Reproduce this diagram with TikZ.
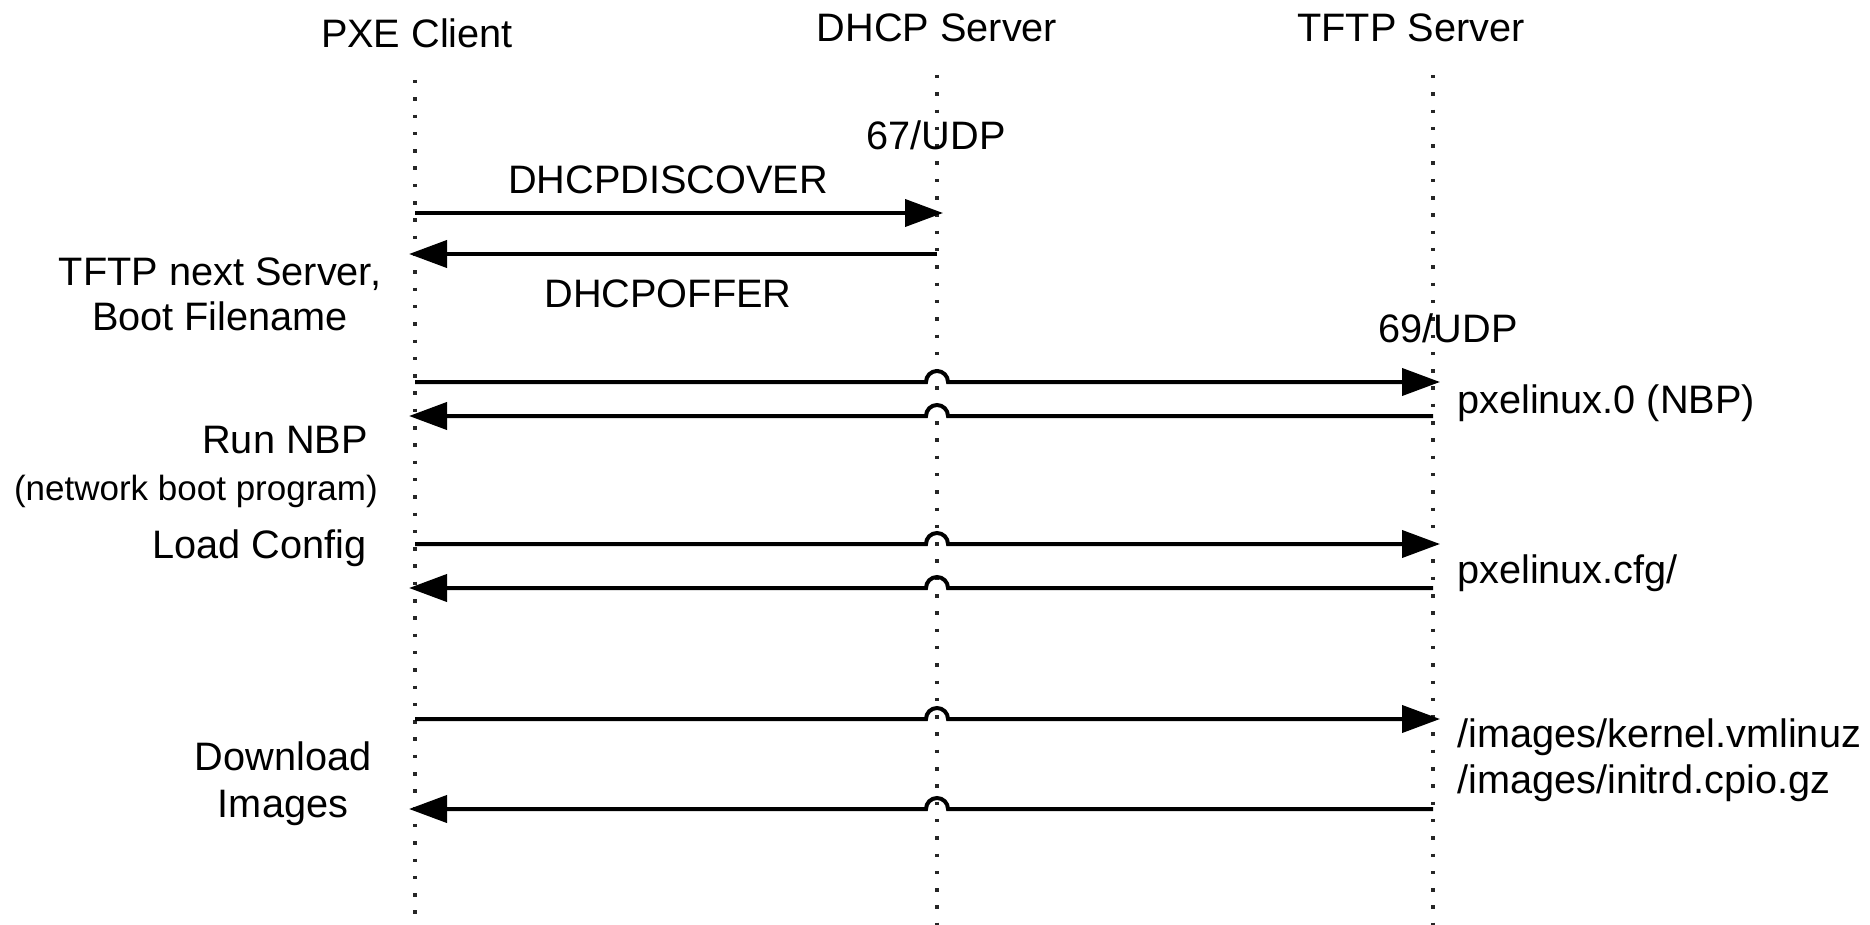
\documentclass[tikz,border=0pt]{standalone}
\usepackage{fontspec}
\setmainfont{Liberation Sans}
\usetikzlibrary{arrows.meta,calc}
\begin{document}
\begin{tikzpicture}[x=1pt,y=-1pt,
  lbl/.style={inner sep=0pt, font=\fontsize{39.7}{44}\selectfont, text=black},
  small/.style={inner sep=0pt, font=\fontsize{35}{40}\selectfont, text=black},
  life/.style={line width=3.5pt, dash pattern=on 3.5pt off 13.8pt, color=black!85},
  msg/.style={line width=4pt, black, -{Triangle[length=38pt,width=27pt]}},
]
\useasboundingbox (0,0) rectangle (1870,925);

% headers
\node[lbl,anchor=base] (pxeH)  at (417,48) {PXE Client};
\node[lbl,anchor=base] (dhcpH) at (937,42) {DHCP Server};
\node[lbl,anchor=base] (tftpH) at (1411,42) {TFTP Server};

% lifelines
\coordinate (pxeT)  at (415,80);  \coordinate (pxeB)  at (415,925);
\coordinate (dhcpT) at (937,75);  \coordinate (dhcpB) at (937,925);
\coordinate (tftpT) at (1433,75); \coordinate (tftpB) at (1433,925);
\draw[life] (pxeT) -- (pxeB);
\draw[life] (dhcpT) -- (dhcpB);
\draw[life] (tftpT) -- (tftpB);

% port labels
\node[lbl,anchor=base] (p67) at (936,150) {67/UDP};
\node[lbl,anchor=base] (p69) at (1448,342) {69/UDP};

% message 1 and 2 (DHCP)
\coordinate (m1s) at (415,213); \coordinate (m1e) at (943,213);
\draw[msg] (m1s) -- (m1e);
\node[lbl,anchor=base] (disc) at (668,194) {DHCPDISCOVER};
\coordinate (m2s) at (937,254); \coordinate (m2e) at (409,254);
\draw[msg] (m2s) -- (m2e);
\node[lbl,anchor=base] (offer) at (668,307) {DHCPOFFER};
\node[lbl,anchor=base] (tns) at (220,285) {TFTP next Server,};
\node[lbl,anchor=base] (bfn) at (220,330) {Boot Filename};

% message 3 and 4 (NBP)
\coordinate (m3s) at (415,382); \coordinate (m3j) at (937,382); \coordinate (m3e) at (1440,382);
\draw[msg] (m3s) -- ($(m3j)+(-11,0)$) arc[start angle=180,end angle=360,radius=11] -- (m3e);
\coordinate (m4s) at (1433,416); \coordinate (m4j) at (937,416); \coordinate (m4e) at (409,416);
\draw[msg] (m4s) -- ($(m4j)+(11,0)$) arc[start angle=0,end angle=-180,radius=11] -- (m4e);
\node[lbl,anchor=base west] (nbp) at (1457,413) {pxelinux.0 (NBP)};
\node[lbl,anchor=base east] (run) at (368,453) {Run NBP};
\node[small,anchor=base east] (nbpx) at (378,500) {(network boot program)};

% message 5 and 6 (config)
\coordinate (m5s) at (415,544); \coordinate (m5j) at (937,544); \coordinate (m5e) at (1440,544);
\draw[msg] (m5s) -- ($(m5j)+(-11,0)$) arc[start angle=180,end angle=360,radius=11] -- (m5e);
\coordinate (m6s) at (1433,588); \coordinate (m6j) at (937,588); \coordinate (m6e) at (409,588);
\draw[msg] (m6s) -- ($(m6j)+(11,0)$) arc[start angle=0,end angle=-180,radius=11] -- (m6e);
\node[lbl,anchor=base east] (load) at (367,558) {Load Config};
\node[lbl,anchor=base west] (cfg) at (1457,583) {pxelinux.cfg/};

% message 7 and 8 (images)
\coordinate (m7s) at (415,719); \coordinate (m7j) at (937,719); \coordinate (m7e) at (1440,719);
\draw[msg] (m7s) -- ($(m7j)+(-11,0)$) arc[start angle=180,end angle=360,radius=11] -- (m7e);
\coordinate (m8s) at (1433,809); \coordinate (m8j) at (937,809); \coordinate (m8e) at (409,809);
\draw[msg] (m8s) -- ($(m8j)+(11,0)$) arc[start angle=0,end angle=-180,radius=11] -- (m8e);
\node[lbl,anchor=base] (dl) at (283,770) {Download};
\node[lbl,anchor=base] (img) at (283,817) {Images};
\node[lbl,anchor=base west] (kern) at (1457,747) {/images/kernel.vmlinuz};
\node[lbl,anchor=base west] (initrd) at (1457,793) {/images/initrd.cpio.gz};
\end{tikzpicture}
\end{document}
